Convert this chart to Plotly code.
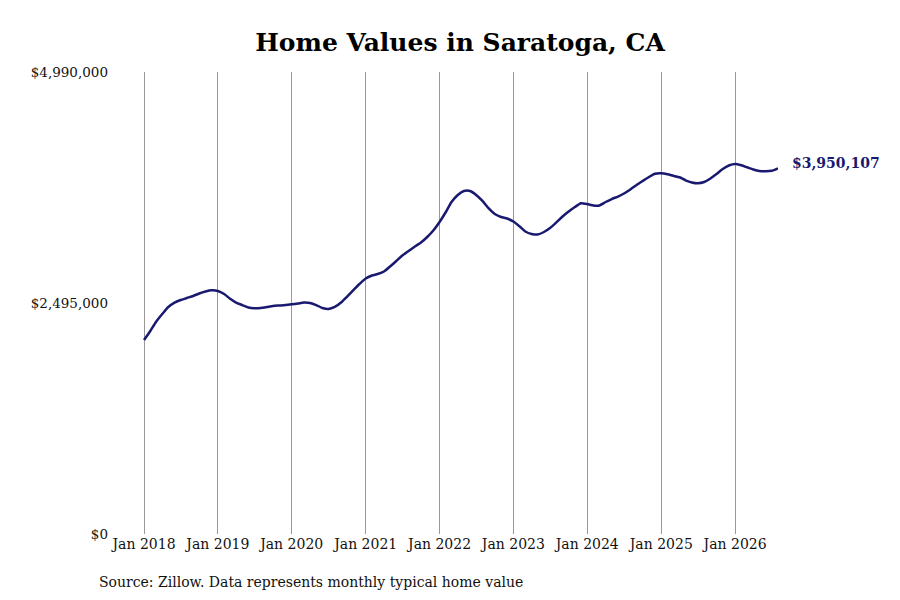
import pandas as pd
import plotly.graph_objects as go

# =========================================================
# Data (monthly typical home value)
# =========================================================
start_month = "2018-01-01"
home_values = [
    2095000, 2193000, 2290000, 2376000, 2452000, 2500000, 2527000, 2549000, 2571000, 2598000, 2619000, 2632000,  # 2018
    2625000, 2592000, 2544000, 2500000, 2473000, 2446000, 2438000, 2441000, 2452000, 2463000, 2468000, 2473000,  # 2019
    2481000, 2490000, 2500000, 2495000, 2473000, 2441000, 2430000, 2452000, 2500000, 2565000, 2635000, 2700000,  # 2020
    2760000, 2792000, 2808000, 2835000, 2889000, 2949000, 3008000, 3057000, 3105000, 3148000, 3208000, 3278000,  # 2021
    3370000, 3478000, 3586000, 3662000, 3705000, 3705000, 3662000, 3597000, 3516000, 3456000, 3424000, 3408000,  # 2022
    3375000, 3321000, 3267000, 3240000, 3235000, 3262000, 3305000, 3365000, 3429000, 3483000, 3532000, 3572000,  # 2023
    3564000, 3548000, 3548000, 3586000, 3618000, 3645000, 3678000, 3721000, 3770000, 3813000, 3856000, 3891000,  # 2024
    3896000, 3885000, 3869000, 3853000, 3820000, 3797000, 3788000, 3802000, 3840000, 3888000, 3942000, 3980000,  # 2025
    3996000, 3982000, 3961000, 3937000, 3921000, 3918000, 3923000, 3950107,                                      # 2026
]
y_ticks = [0, 2495000, 4990000]
y_tick_labels = ["$0", "$2,495,000", "$4,990,000"]
x_tick_dates = [f"{yr}-01-01" for yr in range(2018, 2027)]
x_tick_labels = [f"Jan {yr}" for yr in range(2018, 2027)]

dates = pd.date_range(start_month, periods=len(home_values), freq="MS")

LINE_COLOR = "#191970"
FONT = "DejaVu Serif"

# =========================================================
# Figure
# =========================================================
fig = go.Figure()
fig.add_trace(go.Scatter(
    x=dates,
    y=home_values,
    mode="lines",
    line=dict(color=LINE_COLOR, width=2.5, shape="spline", smoothing=0.6),
    hoverinfo="skip",
    showlegend=False,
))

# end-of-line value label
fig.add_annotation(
    x=dates[-1], y=home_values[-1],
    text=f"<b>${home_values[-1]:,}</b>",
    showarrow=False,
    xanchor="left", yanchor="middle",
    xshift=12, yshift=5,
    font=dict(family=FONT, size=14, color=LINE_COLOR),
)

# source note
fig.add_annotation(
    xref="paper", yref="paper",
    x=(97 - 142) / 636, y=(534 - 582) / 462,
    text="Source: Zillow. Data represents monthly typical home value",
    showarrow=False,
    xanchor="left", yanchor="middle",
    font=dict(family=FONT, size=14, color="#111111"),
)

fig.update_layout(
    width=900,
    height=600,
    paper_bgcolor="white",
    plot_bgcolor="white",
    margin=dict(l=134, r=130, t=64, b=74),
    font=dict(family=FONT, size=13.5, color="#111111"),
    title=dict(
        text="<b>Home Values in Saratoga, CA</b>",
        x=0.5, xref="paper", xanchor="center",
        y=1 - 34 / 600, yref="container", yanchor="middle",
        font=dict(family=FONT, size=25, color="#000000"),
    ),
    xaxis=dict(
        range=["2017-12-22", dates[-1]],
        tickvals=x_tick_dates,
        ticktext=x_tick_labels,
        tickfont=dict(size=14),
        showgrid=True,
        gridcolor="#999999",
        gridwidth=1,
        zeroline=False,
        showline=False,
        ticks="",
    ),
    yaxis=dict(
        range=[0, 4990000],
        tickvals=y_ticks,
        ticktext=y_tick_labels,
        showgrid=False,
        zeroline=False,
        showline=False,
        ticks="",
        ticklabelstandoff=33,
    ),
)

fig.write_html("out.html")
